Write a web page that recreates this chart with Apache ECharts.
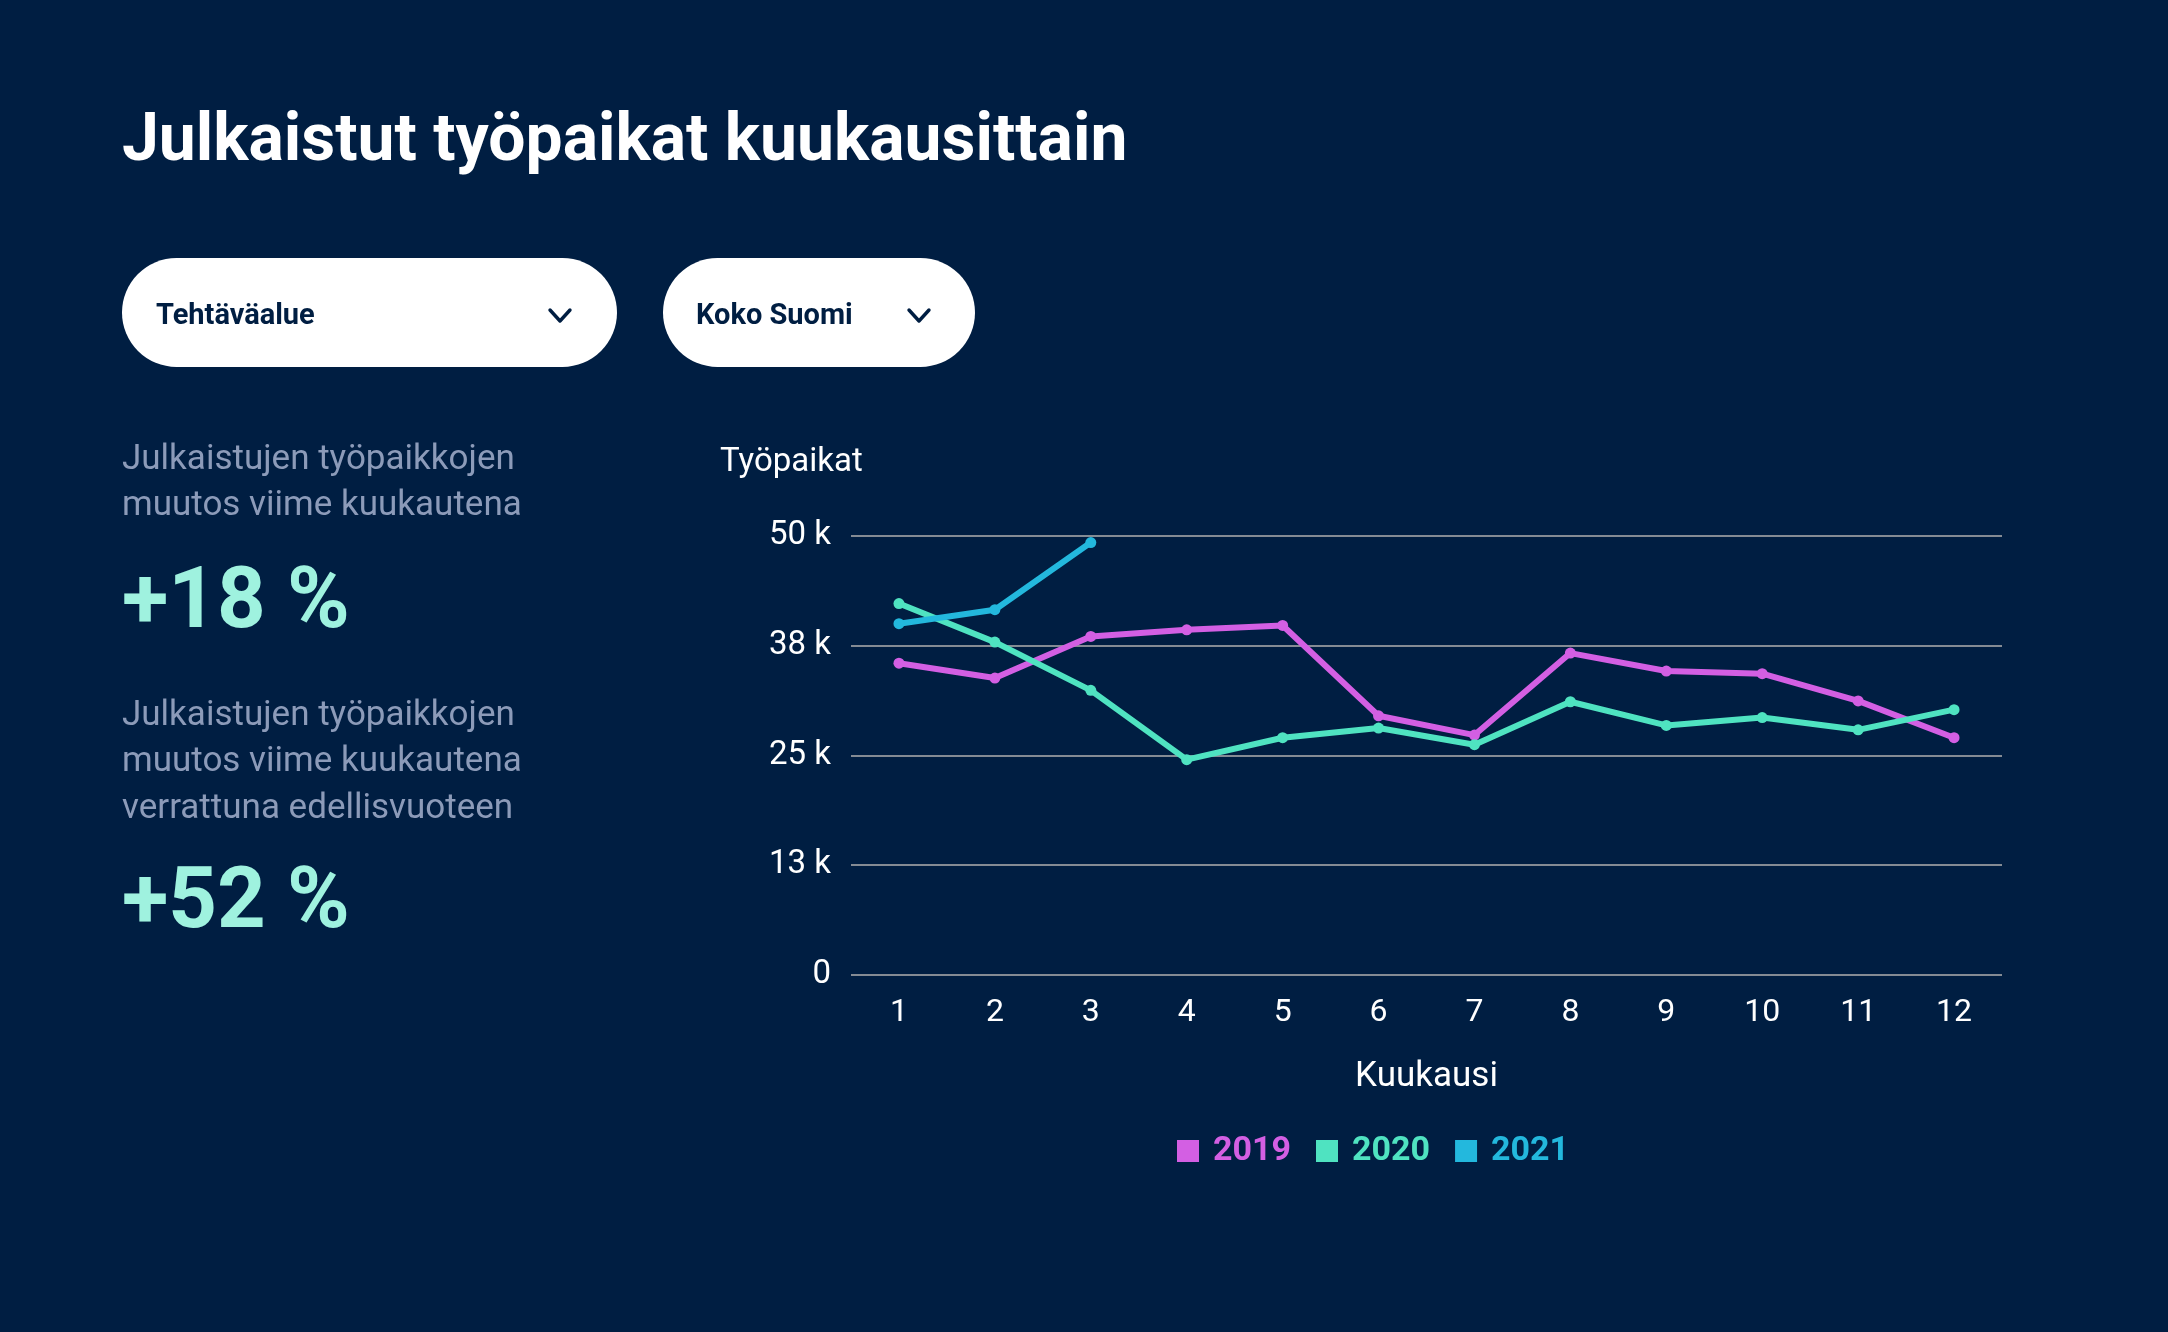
<!DOCTYPE html>
<html>
<head>
<meta charset="utf-8">
<style>
  html, body { margin: 0; padding: 0; background: #001e42; }
  #chart { width: 2168px; height: 1332px; }
</style>
<script src="https://cdn.jsdelivr.net/npm/echarts@6.0.0/dist/echarts.min.js"></script>
</head>
<body>
<div id="chart"></div>
<script>
// ---- Data ----
const months = ['1', '2', '3', '4', '5', '6', '7', '8', '9', '10', '11', '12'];
const years = ['2019', '2020', '2021'];
const values2019 = [35500, 33800, 38550, 39300, 39800, 29500, 27300, 36650, 34600, 34300, 31200, 27000];
const values2020 = [42300, 37900, 32400, 24500, 27000, 28100, 26200, 31100, 28400, 29300, 27900, 30200];
const values2021 = [40000, 41600, 49250];
const yTicks = [0, 12500, 25000, 37500, 50000];
const statChangeMonth = '+18 %';
const statChangeYear = '+52 %';

const colors = { '2019': '#d35fe3', '2020': '#4fe3c1', '2021': '#23b8dd' };
const BG = '#001e42';
const FONT = 'Roboto';

const chart = echarts.init(document.getElementById('chart'), null, { renderer: 'canvas' });

function txt(text, x, y, size, weight, color, align) {
  return {
    type: 'text', x: x, y: y, silent: true,
    style: {
      text: text, fill: color, font: weight + ' ' + size + 'px ' + FONT,
      textAlign: align || 'left', textVerticalAlign: 'middle'
    }
  };
}
function pill(x, y, w, h) {
  return { type: 'rect', shape: { x: x, y: y, width: w, height: h, r: h / 2 }, style: { fill: '#ffffff' }, silent: true };
}
function chevron(cx, cy) {
  return {
    type: 'polyline', silent: true,
    shape: { points: [[cx - 10, cy - 6], [cx, cy + 5], [cx + 10, cy - 6]] },
    style: { stroke: BG, lineWidth: 3.4, fill: null, lineCap: 'round', lineJoin: 'round' }
  };
}

const greyText = '#8c9bb9';
const mint = '#9ff2df';

const option = {
  backgroundColor: BG,
  animation: false,
  textStyle: { fontFamily: FONT },
  graphic: [
    txt('Julkaistut työpaikat kuukausittain', 122, 143, 66, 'bold', '#ffffff'),
    pill(122, 258, 495, 109),
    txt('Tehtäväalue', 156, 317, 29, 'bold', BG),
    chevron(560, 316),
    pill(663, 258, 312, 109),
    txt('Koko Suomi', 696, 317, 29, 'bold', BG),
    chevron(919, 316),
    txt('Julkaistujen työpaikkojen', 122, 460, 35, 'normal', greyText),
    txt('muutos viime kuukautena', 122, 506, 35, 'normal', greyText),
    txt(statChangeMonth, 122, 606, 85, 'bold', mint),
    txt('Julkaistujen työpaikkojen', 122, 716, 35, 'normal', greyText),
    txt('muutos viime kuukautena', 122, 762, 35, 'normal', greyText),
    txt('verrattuna edellisvuoteen', 122, 809, 35, 'normal', greyText),
    txt(statChangeYear, 122, 906, 85, 'bold', mint),
    txt('Työpaikat', 720, 463, 33, 'normal', '#ffffff')
  ],
  grid: { left: 851, right: 166, top: 536, bottom: 357.5, containLabel: false },
  legend: {
    left: 1172, top: 1129,
    itemWidth: 22, itemHeight: 22, itemGap: 25,
    icon: 'rect',
    data: years.map(y => ({ name: y, textStyle: { color: colors[y] } })),
    textStyle: { fontFamily: FONT, fontSize: 34, fontWeight: 'bold', padding: [0, 0, 0, 9] }
  },
  xAxis: {
    type: 'category', data: months, boundaryGap: true,
    name: 'Kuukausi', nameLocation: 'middle', nameGap: 85,
    nameTextStyle: { color: '#ffffff', fontSize: 35, fontFamily: FONT },
    axisLine: { show: false }, axisTick: { show: false },
    axisLabel: { color: '#ffffff', fontSize: 32, margin: 22, fontFamily: FONT }
  },
  yAxis: {
    type: 'value', min: yTicks[0], max: yTicks[yTicks.length - 1], interval: yTicks[1] - yTicks[0],
    axisLine: { show: false }, axisTick: { show: false },
    splitLine: { show: true, lineStyle: { color: '#b0b0b0', width: 1.5 } },
    axisLabel: {
      color: '#ffffff', fontSize: 33, margin: 20, fontFamily: FONT,
      formatter: v => v === 0 ? '0' : Math.round(v / 1000) + ' k'
    }
  },
  series: [
    { name: '2019', data: values2019 },
    { name: '2020', data: values2020 },
    { name: '2021', data: values2021 }
  ].map(s => ({
    name: s.name, type: 'line', data: s.data,
    symbol: 'circle', symbolSize: 11, showSymbol: true,
    lineStyle: { width: 6, color: colors[s.name] },
    itemStyle: { color: colors[s.name] },
    emphasis: { disabled: true }
  }))
};
chart.setOption(option);
</script>
</body>
</html>
